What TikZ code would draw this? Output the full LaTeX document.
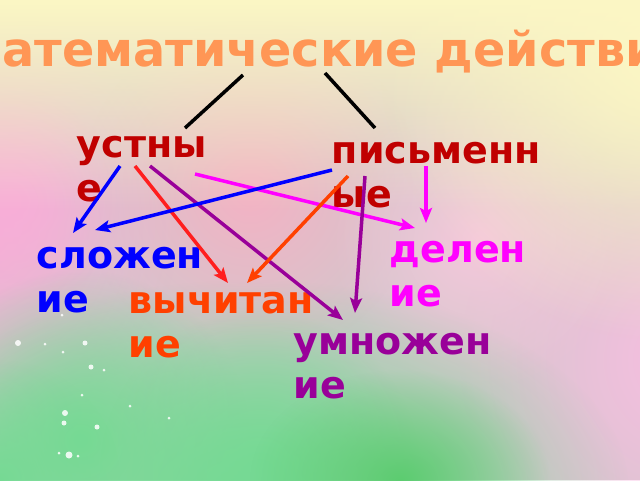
\documentclass[tikz,border=0pt]{standalone}
\usepackage{fontspec}
\setmainfont{DejaVu Sans}
\usepackage{tikz}
\usetikzlibrary{arrows.meta,positioning,calc,fadings}
\tikzfading[name=fadedown, top color=transparent!0, bottom color=transparent!100]
\tikzfading[name=blob, inner color=transparent!0, outer color=transparent!100]
\definecolor{titleorange}{RGB}{255,150,85}
\definecolor{darkred}{RGB}{192,0,0}
\definecolor{addblue}{RGB}{0,0,255}
\definecolor{linered}{RGB}{255,30,30}
\definecolor{subred}{RGB}{255,64,0}
\definecolor{divmagenta}{RGB}{255,0,255}
\definecolor{mulpurple}{RGB}{153,0,153}
\definecolor{bgbase}{RGB}{212,198,204}
\definecolor{bgrose}{RGB}{244,178,196}
\definecolor{bgpinkl}{RGB}{248,174,216}
\definecolor{bgpinkr}{RGB}{249,190,226}
\definecolor{bgpinkm}{RGB}{246,200,220}
\definecolor{bgyellow}{RGB}{252,247,196}
\definecolor{bggreen}{RGB}{118,218,148}
\definecolor{bgdeep}{RGB}{92,204,112}

\begin{document}
\begin{tikzpicture}[x=1pt, y=-1pt, ->, >={Stealth[length=15pt,width=12pt,inset=3pt]}, line width=3.5pt]
\tikzstyle{word}=[anchor=base west, inner sep=0pt, align=left, font=\fontsize{38}{44}\selectfont\bfseries]
\useasboundingbox (0,0) rectangle (640,480);
\clip (0,0) rectangle (640,480);
% background
\begin{scope}[-]
\fill[bgbase] (0,0) rectangle (640,480);
\fill[bgrose, path fading=blob] (250,190) circle (170);
\fill[bgpinkl, path fading=blob] (-30,220) circle (210);
\fill[bgpinkl, path fading=blob] (10,200) circle (110);
\fill[bgpinkr, path fading=blob] (690,360) circle (230);
\fill[bgpinkm, path fading=blob] (480,240) circle (150);
\fill[bgyellow, path fading=fadedown] (0,0) rectangle (640,210);
\fill[bgyellow, path fading=blob] (660,60) circle (280);
\fill[bggreen, path fading=blob] (250,490) ellipse (380 and 210);
\fill[bggreen, path fading=blob] (80,440) circle (170);
\fill[bggreen, path fading=blob] (0,480) circle (120);
\fill[bggreen, path fading=blob] (260,470) circle (160);
\fill[bgdeep, path fading=blob] (400,480) ellipse (150 and 110);
% sparkles
\foreach \sx/\sy/\sr in {18/343/3, 85/343/2.5, 45/344/1.5, 63/352/1.5, 91/367/2.5, 104/370/1.5, 82/395/1.5, 130/406/1.5, 65/413/3, 64/423/2.5, 97/427/2.5, 169/418/1.5, 69/455/3.5, 59/453/1.5, 78/456/1.5, 62/315/1.5}
  \fill[white, opacity=0.85] (\sx,\sy) circle (\sr);
\end{scope}

% words
\node[anchor=base west, inner sep=0pt, text=titleorange, font=\fontsize{47.7}{52}\selectfont\bfseries] (title) at (-47,66) {Математические действия};
\node[word, text=darkred]    (ustnye)     at (75,201)  {устны\\е};
\node[word, text=darkred]    (pismennye)  at (330,207) {письменн\\ые};
\node[word, text=addblue]    (slozhenie)  at (35,312)  {сложен\\ие};
\node[word, text=subred]     (vychitanie) at (127,357) {вычитан\\ие};
\node[word, text=divmagenta] (delenie)    at (388,306) {делен\\ие};
\node[word, text=mulpurple]  (umnozhenie) at (292,398) {умножен\\ие};

% links
\draw[-, black] ([shift={(290,9)}]title.base west) -- ([shift={(110,-73)}]ustnye.base west);
\draw[-, black] ([shift={(372,7)}]title.base west) -- ([shift={(45,-79)}]pismennye.base west);
\path
([shift={(45,-35)}]ustnye.base west)     edge[addblue]    ([shift={(38,-79)}]slozhenie.base west)
([shift={(60,-35)}]ustnye.base west)     edge[linered]    ([shift={(101,-74)}]vychitanie.base west)
([shift={(75,-35)}]ustnye.base west)     edge[mulpurple]  ([shift={(51,-78)}]umnozhenie.base west)
([shift={(120,-27)}]ustnye.base west)    edge[divmagenta] ([shift={(27,-78)}]delenie.base west)
([shift={(2,-37)}]pismennye.base west)   edge[addblue]    ([shift={(60,-82)}]slozhenie.base west)
([shift={(18,-31)}]pismennye.base west)  edge[subred]     ([shift={(120,-74)}]vychitanie.base west)
([shift={(35,-31)}]pismennye.base west)  edge[mulpurple]  ([shift={(63,-85)}]umnozhenie.base west)
([shift={(96,-41)}]pismennye.base west)  edge[divmagenta] ([shift={(38,-83)}]delenie.base west);
\end{tikzpicture}
\end{document}
